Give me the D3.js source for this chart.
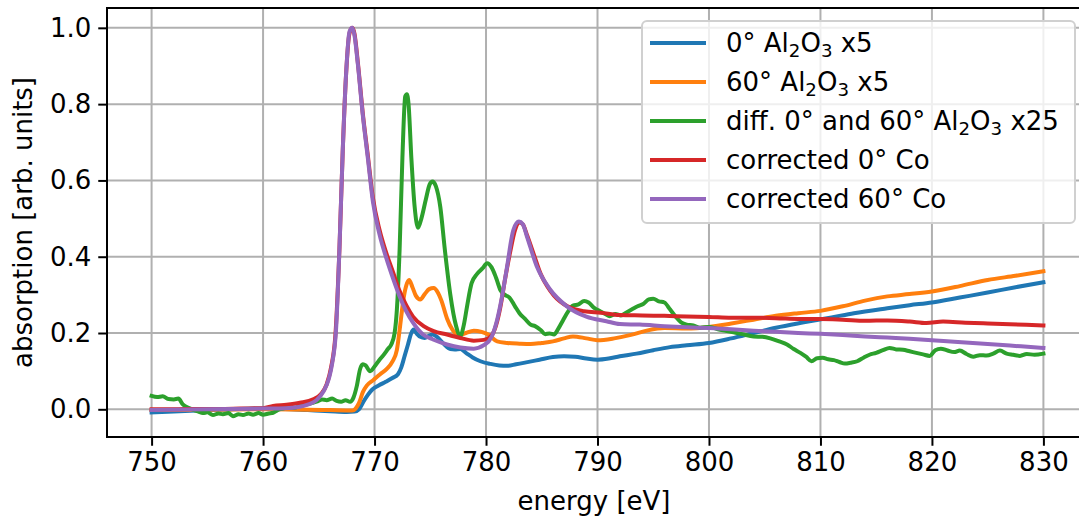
<!DOCTYPE html>
<html>
<head>
<meta charset="utf-8">
<script src="https://cdn.jsdelivr.net/npm/d3@7"></script>
<style>
  html, body { margin: 0; padding: 0; background: #fff; }
  svg { display: block; font-family: "DejaVu Sans", sans-serif; }
</style>
</head>
<body>
<svg id="chart" width="1079" height="519"></svg>
<script>
// Co L-edge absorption spectra: Al2O3 references and corrected Co spectra
const xTicks = [750, 760, 770, 780, 790, 800, 810, 820, 830];
const yTicks = [0.0, 0.2, 0.4, 0.6, 0.8, 1.0];

// [energy (eV), absorption]
const al2o3_0 = [[750,-0.008],[752,-0.006],[754,-0.003],[756,-0.001],[758,0.001],[760,0.002],[762,0.001],[764,-0.002],[766,-0.005],[767.5,-0.007],[768.2,-0.006],[768.6,0.0],[769.0,0.02],[769.4,0.038],[769.8,0.052],[770.4,0.063],[771.0,0.072],[771.6,0.082],[772.1,0.092],[772.4,0.11],[772.7,0.14],[773.0,0.17],[773.3,0.2],[773.5,0.209],[773.8,0.198],[774.1,0.19],[774.5,0.187],[774.9,0.193],[775.2,0.196],[775.6,0.19],[776.0,0.178],[776.4,0.166],[776.8,0.158],[777.2,0.157],[777.7,0.158],[778.2,0.148],[778.8,0.136],[779.5,0.126],[780.4,0.119],[781.2,0.115],[781.9,0.114],[782.7,0.118],[783.6,0.123],[784.8,0.13],[786.0,0.137],[787.0,0.139],[788.0,0.138],[789.0,0.133],[790.0,0.13],[791.0,0.133],[792.0,0.139],[793.5,0.146],[795.0,0.155],[796.5,0.163],[798,0.168],[800,0.174],[802,0.186],[804,0.2],[806,0.214],[808.5,0.228],[811,0.241],[813,0.252],[816,0.265],[818,0.273],[820,0.28],[822.5,0.293],[825,0.306],[827.5,0.32],[830,0.333]];

const al2o3_60 = [[750,-0.002],[755,-0.001],[760,0.0],[764,-0.001],[766,-0.002],[768.0,-0.003],[768.3,0.002],[768.6,0.016],[768.95,0.045],[769.3,0.062],[769.9,0.077],[770.5,0.092],[771.1,0.106],[771.6,0.125],[772.0,0.155],[772.3,0.22],[772.6,0.29],[772.85,0.325],[773.1,0.339],[773.4,0.32],[773.7,0.298],[774.1,0.288],[774.5,0.302],[774.9,0.315],[775.3,0.318],[775.7,0.305],[776.0,0.285],[776.5,0.238],[777.0,0.208],[777.6,0.194],[778.2,0.2],[778.9,0.206],[779.6,0.203],[780.2,0.196],[781.0,0.178],[781.9,0.174],[783.0,0.172],[784.0,0.171],[785.0,0.174],[786.0,0.178],[787.0,0.186],[787.8,0.191],[789.0,0.186],[790.0,0.181],[791.5,0.186],[793.0,0.195],[794.5,0.207],[796,0.213],[798,0.212],[800,0.216],[802,0.225],[804,0.235],[806,0.245],[808,0.252],[810,0.258],[812,0.27],[814,0.285],[816,0.296],[818,0.302],[820,0.309],[822.5,0.323],[825,0.339],[827.5,0.35],[830,0.362]];

const al2o3_diff = [[750,0.035],[750.5,0.032],[751,0.034],[751.5,0.027],[752,0.026],[752.4,0.028],[752.8,0.013],[753.3,0.004],[753.8,-0.002],[754.2,-0.006],[754.6,-0.01],[755.0,-0.008],[755.5,-0.015],[756,-0.011],[756.4,-0.013],[756.9,-0.01],[757.3,-0.018],[757.8,-0.013],[758.2,-0.015],[758.7,-0.011],[759.1,-0.014],[759.6,-0.01],[760,-0.014],[760.5,-0.011],[760.9,-0.009],[761.3,-0.002],[761.8,0.002],[762.3,0.005],[762.8,0.004],[763.3,0.009],[763.8,0.012],[764.3,0.016],[764.8,0.02],[765.3,0.026],[765.7,0.024],[766.2,0.028],[766.6,0.022],[767.0,0.02],[767.4,0.024],[767.8,0.02],[768.1,0.03],[768.4,0.06],[768.7,0.105],[768.95,0.118],[769.2,0.115],[769.6,0.1],[770.0,0.112],[770.4,0.128],[770.8,0.142],[771.2,0.158],[771.5,0.17],[771.8,0.2],[772.0,0.26],[772.25,0.42],[772.5,0.66],[772.75,0.82],[772.9,0.826],[773.05,0.8],[773.3,0.66],[773.6,0.53],[773.9,0.476],[774.2,0.5],[774.6,0.55],[774.95,0.59],[775.2,0.597],[775.5,0.585],[775.9,0.53],[776.3,0.42],[776.8,0.3],[777.3,0.22],[777.7,0.192],[778.0,0.22],[778.3,0.27],[778.7,0.33],[779.2,0.355],[779.7,0.37],[780.1,0.383],[780.5,0.372],[780.9,0.345],[781.3,0.312],[781.7,0.3],[782.1,0.293],[782.6,0.27],[783.0,0.252],[783.5,0.237],[784.0,0.222],[784.4,0.218],[784.9,0.208],[785.3,0.197],[785.7,0.199],[786.1,0.196],[786.5,0.212],[786.9,0.233],[787.4,0.258],[787.8,0.272],[788.3,0.275],[788.8,0.284],[789.2,0.28],[789.7,0.266],[790.2,0.258],[790.7,0.25],[791.1,0.244],[791.6,0.25],[792.1,0.246],[792.6,0.254],[793.1,0.262],[793.6,0.27],[794.1,0.276],[794.6,0.288],[795.0,0.29],[795.5,0.283],[796.0,0.28],[796.5,0.262],[797.0,0.243],[797.5,0.228],[798.0,0.222],[798.6,0.22],[799.2,0.214],[800,0.216],[800.8,0.21],[801.5,0.206],[802.2,0.202],[803,0.197],[804,0.191],[804.8,0.19],[805.5,0.186],[806.3,0.178],[807,0.17],[807.6,0.158],[808.2,0.148],[808.7,0.138],[809.2,0.126],[809.7,0.134],[810.2,0.135],[810.7,0.131],[811.2,0.129],[811.7,0.124],[812.2,0.12],[812.7,0.122],[813.3,0.126],[813.9,0.136],[814.4,0.143],[815,0.148],[815.6,0.155],[816.2,0.161],[816.8,0.157],[817.4,0.156],[818,0.152],[818.6,0.148],[819.2,0.144],[819.8,0.14],[820.3,0.155],[820.8,0.159],[821.4,0.154],[822,0.15],[822.5,0.154],[823.1,0.145],[823.7,0.138],[824.3,0.142],[824.9,0.141],[825.5,0.146],[826.1,0.154],[826.7,0.146],[827.3,0.143],[827.9,0.14],[828.5,0.145],[829.2,0.143],[830,0.146]];

const co_0 = [[750,0.0],[752,0.0],[754,0.001],[756,0.001],[758,0.002],[760,0.003],[760.9,0.009],[762.1,0.012],[763.3,0.017],[764.5,0.026],[765.2,0.04],[765.7,0.065],[766.1,0.11],[766.5,0.2],[766.85,0.42],[767.15,0.68],[767.45,0.88],[767.75,0.985],[768.0,1.0],[768.2,0.985],[768.5,0.91],[768.95,0.775],[769.4,0.665],[769.85,0.555],[770.45,0.47],[771.05,0.41],[771.65,0.36],[772.25,0.31],[772.85,0.272],[773.45,0.243],[774.4,0.218],[775.3,0.205],[776.5,0.196],[777.7,0.187],[778.9,0.18],[779.8,0.182],[780.4,0.19],[780.9,0.22],[781.3,0.27],[781.7,0.34],[782.15,0.41],[782.6,0.47],[783.0,0.49],[783.3,0.485],[783.7,0.455],[784.3,0.405],[784.9,0.355],[785.5,0.322],[786.1,0.298],[787.3,0.27],[788.8,0.257],[790.3,0.253],[792,0.247],[794,0.246],[796,0.245],[798,0.243],[800,0.242],[802,0.24],[804,0.24],[806,0.239],[808,0.237],[810,0.2365],[812,0.235],[814,0.232],[816,0.233],[818,0.23],[819.5,0.226],[821,0.23],[823,0.227],[825,0.225],[827,0.223],[830,0.22]];

const co_60 = [[750,-0.002],[755,0.0],[760,0.002],[762,0.003],[763.2,0.006],[764.0,0.012],[764.8,0.024],[765.4,0.046],[765.9,0.08],[766.2,0.12],[766.55,0.21],[766.85,0.42],[767.15,0.68],[767.45,0.88],[767.75,0.99],[768.0,1.0],[768.2,0.98],[768.5,0.905],[768.95,0.77],[769.4,0.658],[769.85,0.545],[770.45,0.458],[771.05,0.397],[771.65,0.344],[772.25,0.296],[772.85,0.257],[773.45,0.227],[774.35,0.196],[775.25,0.183],[776.5,0.17],[777.7,0.162],[778.9,0.159],[779.8,0.168],[780.5,0.19],[781.0,0.235],[781.4,0.29],[781.85,0.367],[782.45,0.47],[782.95,0.492],[783.3,0.485],[783.65,0.455],[784.55,0.375],[785.75,0.314],[787.25,0.27],[789.0,0.243],[790.8,0.231],[792,0.2235],[793.8,0.222],[796,0.218],[798,0.215],[800,0.213],[802,0.21],[804,0.206],[806,0.203],[808,0.2],[810,0.198],[812,0.195],[814,0.191],[816,0.188],[818,0.185],[820,0.181],[822,0.177],[824,0.173],[826,0.169],[828,0.165],[830,0.161]];

// legend entries: pieces of [text, isSubscript] for the chemical formula
const series = [
  { data: al2o3_0,    color: "#1f77b4", label: [["0° Al",0],["2",1],["O",0],["3",1],[" x5",0]] },
  { data: al2o3_60,   color: "#ff7f0e", label: [["60° Al",0],["2",1],["O",0],["3",1],[" x5",0]] },
  { data: al2o3_diff, color: "#2ca02c", label: [["diff. 0° and 60° Al",0],["2",1],["O",0],["3",1],[" x25",0]] },
  { data: co_0,       color: "#d62728", label: [["corrected 0° Co",0]] },
  { data: co_60,      color: "#9467bd", label: [["corrected 60° Co",0]] }
];

const m = { left: 107, top: 8, right: 1088, bottom: 437 };
const fs = 26;

const svg = d3.select("#chart");

const x = d3.scaleLinear().domain([746, 834]).range([m.left, m.right]);
const y = d3.scaleLinear().domain([-0.0726, 1.052]).range([m.bottom, m.top]);

svg.append("defs").append("clipPath").attr("id", "plotclip")
  .append("rect").attr("x", m.left).attr("y", m.top)
  .attr("width", m.right - m.left).attr("height", m.bottom - m.top);

// grid
const grid = svg.append("g").attr("stroke", "#b0b0b0").attr("stroke-width", 2);
grid.selectAll("line.gx").data(xTicks).join("line")
  .attr("x1", d => x(d)).attr("x2", d => x(d))
  .attr("y1", m.top).attr("y2", m.bottom);
grid.selectAll("line.gy").data(yTicks).join("line")
  .attr("y1", d => y(d)).attr("y2", d => y(d))
  .attr("x1", m.left).attr("x2", m.right);

// spectra
const line = d3.line().x(d => x(d[0])).y(d => y(d[1])).curve(d3.curveMonotoneX);
const plot = svg.append("g").attr("clip-path", "url(#plotclip)");
series.forEach(s => {
  plot.append("path").attr("d", line(s.data))
    .attr("fill", "none").attr("stroke", s.color)
    .attr("stroke-width", 4).attr("stroke-linejoin", "round")
    .attr("stroke-linecap", "square");
});

// axes
const xAxis = d3.axisBottom(x).tickValues(xTicks).tickFormat(d3.format("d"))
  .tickSize(8.75).tickPadding(7).tickSizeOuter(0);
const yAxis = d3.axisLeft(y).tickValues(yTicks).tickFormat(d3.format(".1f"))
  .tickSize(8.75).tickPadding(7).tickSizeOuter(0);

const gx = svg.append("g").attr("transform", `translate(0,${m.bottom})`).call(xAxis);
const gy = svg.append("g").attr("transform", `translate(${m.left},0)`).call(yAxis);
[gx, gy].forEach(g => {
  g.select(".domain").remove();
  g.selectAll(".tick line").attr("stroke", "#000").attr("stroke-width", 2);
  g.selectAll(".tick text").attr("fill", "#000").style("font-size", fs + "px")
    .style("font-family", "DejaVu Sans");
});

// spines (left, top, bottom)
svg.append("path")
  .attr("d", `M${m.right},${m.top}H${m.left}V${m.bottom}H${m.right}`)
  .attr("fill", "none").attr("stroke", "#000").attr("stroke-width", 2)
  .attr("stroke-linecap", "square");

// axis labels
svg.append("text").attr("x", 594).attr("y", 510)
  .attr("text-anchor", "middle").style("font-size", fs + "px").text("energy [eV]");
svg.append("text")
  .attr("transform", `translate(32,${(m.top + m.bottom) / 2}) rotate(-90)`)
  .attr("text-anchor", "middle").style("font-size", fs + "px")
  .text("absorption [arb. units]");

// legend
const lg = svg.append("g");
lg.append("rect").attr("x", 642).attr("y", 21).attr("width", 433).attr("height", 202)
  .attr("rx", 5).attr("ry", 5)
  .attr("fill", "rgba(255,255,255,0.8)").attr("stroke", "#d0d0d0").attr("stroke-width", 2);
series.forEach((s, i) => {
  const cy = 43 + i * 39;
  lg.append("line").attr("x1", 650).attr("x2", 706).attr("y1", cy).attr("y2", cy)
    .attr("stroke", s.color).attr("stroke-width", 4);
  const t = lg.append("text").attr("x", 726).attr("y", cy + 9).style("font-size", fs + "px");
  let prevSub = 0;
  s.label.forEach(([txt, sub]) => {
    const ts = t.append("tspan").text(txt);
    if (sub) ts.style("font-size", (fs * 0.7) + "px");
    const dy = (sub ? 5 : 0) - (prevSub ? 5 : 0);
    if (dy) ts.attr("dy", dy);
    prevSub = sub;
  });
});
</script>
</body>
</html>
